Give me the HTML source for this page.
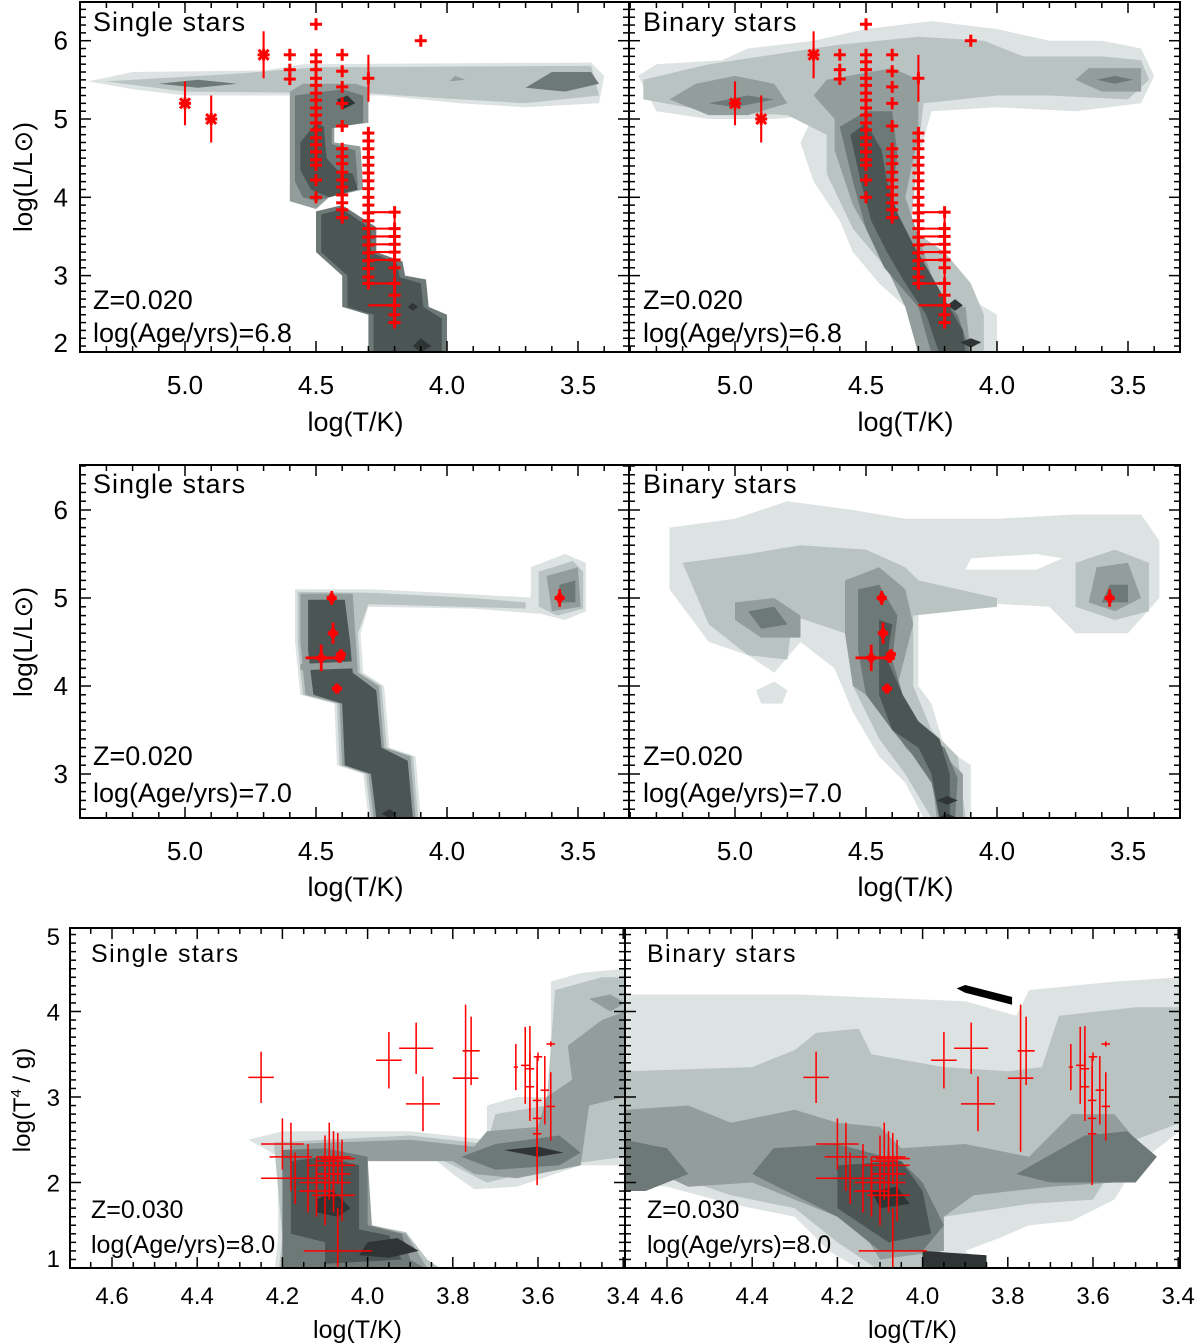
<!DOCTYPE html>
<html><head><meta charset="utf-8"><style>
body{margin:0;background:#fff}
svg{display:block;font-family:"Liberation Sans",sans-serif}
</style></head><body>
<svg id="fig" width="1202" height="1344" viewBox="0 0 1202 1344" xmlns="http://www.w3.org/2000/svg"></svg>
<script>
// ---------- data ----------
const xTicksTop=[5.0,4.5,4.0,3.5];
const xTickLabelsTop=["5.0","4.5","4.0","3.5"];
const yTicksRow1=[2,3,4,5,6];
const yTicksRow2=[3,4,5,6];
const xTicksBottom=[4.6,4.4,4.2,4.0,3.8,3.6,3.4];
const xTickLabelsBottom=["4.6","4.4","4.2","4.0","3.8","3.6","3.4"];
const yTicksRow3=[1,2,3,4,5];
// row1 observations: [logT, logL, xerrHot, yerr, xerrCool]
const row1Plus=[[4.5,6.21,0,0],[4.1,6.0,0,0],
[4.6,5.82,0,0],[4.6,5.63,0,0],[4.6,5.51,0,0],
[4.5,5.82,0,0],[4.5,5.73,0,0],[4.5,5.63,0,0],[4.5,5.52,0,0],[4.5,5.43,0,0],[4.5,5.33,0,0],[4.5,5.24,0,0],[4.5,5.14,0,0],[4.5,5.05,0,0],[4.5,4.95,0,0],[4.5,4.86,0,0],[4.5,4.76,0,0],[4.5,4.67,0,0],[4.5,4.58,0,0],[4.5,4.48,0,0],[4.5,4.41,0,0],[4.5,4.22,0,0],[4.5,4.0,0,0],
[4.4,5.82,0,0],[4.4,5.61,0,0],[4.4,5.41,0,0],[4.4,5.2,0,0],[4.4,4.91,0,0],[4.4,4.62,0,0],[4.4,4.52,0,0],[4.4,4.43,0,0],[4.4,4.32,0,0],[4.4,4.22,0,0],[4.4,4.13,0,0],[4.4,4.03,0,0],[4.4,3.93,0,0],[4.4,3.84,0,0],[4.4,3.74,0,0],
[4.3,5.52,0,0.3],[4.3,4.82,0,0],[4.3,4.72,0,0],[4.3,4.62,0,0],[4.3,4.51,0,0],[4.3,4.41,0,0],[4.3,4.31,0,0],[4.3,4.21,0,0],[4.3,4.11,0,0],[4.3,4.0,0,0],[4.3,3.9,0,0],[4.3,3.8,0,0],[4.3,3.7,0,0],[4.3,3.6,0,0],[4.3,3.49,0,0],[4.3,3.39,0,0],[4.3,3.29,0,0],[4.3,3.19,0,0],[4.3,3.09,0,0],[4.3,2.98,0,0],[4.3,2.9,0,0],
[4.2,3.81,0.1,0,0],[4.2,3.6,0.1,0,0],[4.2,3.5,0.1,0,0],[4.2,3.4,0.1,0,0],[4.2,3.3,0.1,0,0],[4.2,3.2,0.1,0,0],[4.2,3.1,0,0],[4.2,2.9,0.1,0,0],[4.2,2.75,0,0],[4.2,2.62,0.1,0,0],[4.2,2.5,0,0],[4.2,2.4,0,0]];
const row1VertLines=[[4.3,4.9,2.85],[4.2,3.85,2.35],[4.4,3.9,3.7]];
const row1Star=[[5.0,5.2,0,0.28],[4.9,5.0,0,0.3],[4.7,5.82,0,0.3]];
// row2 observations
const row2Pts=[[4.44,5.0,0,0.08],[4.435,4.6,0.02,0.12],[4.48,4.32,0.06,0.15],[4.41,4.32,0.02,0.05],[4.405,4.36,0.01,0.05],[4.42,3.97,0,0],[3.57,5.0,0.01,0.1]];
// row3 observations
const row3Pts=[[4.25,3.23,0.03,0.3],[3.95,3.43,0.03,0.33],[3.886,3.57,0.04,0.3],[3.87,2.92,0.04,0.32],[3.77,3.22,0.03,0.86],[3.757,3.54,0.02,0.4],
[3.652,3.35,0.005,0.27],[3.63,3.37,0.01,0.45],[3.619,3.33,0.01,0.5],[3.619,3.12,0.01,0.4],[3.602,2.96,0.01,0.5],[3.602,2.75,0.01,0.6],[3.602,2.57,0.01,0.6],[3.60,3.47,0.01,0.05],[3.584,3.08,0.01,0.4],[3.57,2.89,0.01,0.4],[3.57,3.62,0.01,0.03],
[4.2,2.45,0.05,0.3],[4.18,2.3,0.05,0.4],[4.14,2.05,0.05,0.4],[4.17,2.05,0.08,0.3],[4.12,1.9,0.04,0.3],[4.1,2.2,0.04,0.35],[4.12,2.0,0.04,0.3],[4.09,2.25,0.03,0.45],[4.08,2.3,0.04,0.3],[4.07,2.28,0.04,0.3],[4.08,2.1,0.04,0.3],[4.06,2.2,0.03,0.3],[4.08,2.0,0.04,0.35],[4.06,1.85,0.03,0.3],[4.1,1.85,0.03,0.35],[4.07,1.2,0.08,0.5]];
const shades=["#dde3e2","#b9c4c2","#939e9c","#6d7977","#4a5554","#2e3534"];
const cP1=[[0,[[5.37,5.48],[5.2,5.6],[4.7,5.62],[4.55,5.7],[3.45,5.72],[3.40,5.55],[3.42,5.2],[3.7,5.15],[3.95,5.2],[4.25,5.3],[4.6,5.3],[5.0,5.3],[5.2,5.38]]],
[1,[[5.3,5.48],[4.8,5.58],[4.5,5.66],[3.45,5.68],[3.42,5.3],[3.7,5.2],[4.0,5.26],[4.3,5.33],[5.0,5.35]]],
[3,[[5.1,5.45],[4.95,5.5],[4.8,5.45],[4.95,5.4]]],[3,[[3.6,5.6],[3.45,5.6],[3.42,5.45],[3.55,5.35],[3.7,5.4]]],[2,[[3.97,5.55],[3.93,5.5],[3.99,5.48]]],
[2,[[4.60,5.35],[4.55,5.45],[4.35,5.45],[4.30,5.4],[4.30,4.95],[4.43,4.9],[4.43,4.7],[4.33,4.65],[4.32,4.1],[4.45,4.0],[4.5,3.85],[4.60,3.95]]],
[3,[[4.58,5.3],[4.4,5.38],[4.32,5.3],[4.32,4.95],[4.44,4.88],[4.44,4.68],[4.35,4.6],[4.34,4.15],[4.45,4.0],[4.5,3.95],[4.55,4.0],[4.58,4.2]]],
[4,[[4.56,4.7],[4.5,4.95],[4.47,4.9],[4.46,4.5],[4.42,4.35],[4.36,4.3],[4.34,4.1],[4.45,4.0],[4.52,4.1],[4.56,4.35]]],
[5,[[4.42,5.25],[4.38,5.3],[4.35,5.2],[4.4,5.12]]],
[3,[[4.5,3.82],[4.4,3.9],[4.27,3.62],[4.27,3.3],[4.17,3.18],[4.16,3.0],[4.08,2.95],[4.07,2.6],[4.0,2.5],[4.0,2.0],[4.3,2.0],[4.3,2.5],[4.4,2.6],[4.4,3.0],[4.5,3.3]]],
[4,[[4.48,3.78],[4.4,3.85],[4.29,3.6],[4.29,3.3],[4.19,3.15],[4.18,2.98],[4.1,2.9],[4.09,2.6],[4.02,2.45],[4.02,2.0],[4.28,2.0],[4.28,2.5],[4.38,2.6],[4.38,3.0],[4.48,3.3]]],
[5,[[4.13,2.65],[4.11,2.6],[4.13,2.55],[4.15,2.6]]],[5,[[4.1,2.2],[4.06,2.1],[4.1,2.02],[4.13,2.1]]]];
const cP2=[[0,[[5.37,5.55],[5.3,5.7],[5.05,5.75],[4.95,5.9],[4.7,6.0],[4.5,6.15],[4.25,6.25],[4.0,6.15],[3.8,6.0],[3.6,6.0],[3.45,5.9],[3.4,5.55],[3.45,5.2],[3.7,5.1],[4.0,5.15],[4.25,5.1],[4.3,4.5],[4.35,3.5],[4.3,3.2],[4.15,3.0],[4.1,2.7],[4.0,2.5],[4.0,2.0],[4.3,2.0],[4.35,2.6],[4.45,2.9],[4.55,3.3],[4.6,3.7],[4.7,4.2],[4.75,4.7],[4.7,5.05],[4.85,5.0],[5.1,5.0],[5.3,5.1]]],
[1,[[5.35,5.5],[5.1,5.7],[4.9,5.8],[4.6,5.95],[4.3,6.05],[4.05,6.0],[3.9,5.8],[3.6,5.8],[3.45,5.75],[3.42,5.5],[3.5,5.25],[3.8,5.3],[4.0,5.3],[4.28,5.2],[4.3,4.6],[4.33,3.6],[4.2,3.3],[4.1,2.9],[4.05,2.5],[4.05,2.0],[4.2,2.0],[4.3,2.6],[4.4,3.0],[4.55,3.6],[4.65,4.3],[4.65,4.8],[4.8,5.05],[5.1,5.1],[5.35,5.25]]],
[2,[[5.25,5.25],[5.15,5.45],[5.0,5.55],[4.85,5.45],[4.8,5.2],[4.95,5.05],[5.1,5.05]]],
[2,[[4.65,5.5],[4.4,5.65],[4.3,5.5],[4.3,4.8],[4.35,4.0],[4.3,3.5],[4.25,3.0],[4.2,2.6],[4.12,2.6],[4.1,2.0],[4.3,2.0],[4.35,2.6],[4.45,3.3],[4.55,3.9],[4.62,4.6],[4.62,5.0],[4.7,5.3]]],
[2,[[3.65,5.65],[3.45,5.65],[3.45,5.35],[3.6,5.35],[3.7,5.5]]],
[3,[[4.6,4.9],[4.5,5.1],[4.4,5.1],[4.38,4.55],[4.4,4.0],[4.35,3.5],[4.3,3.0],[4.22,2.75],[4.15,2.5],[4.12,2.2],[4.1,2.0],[4.25,2.0],[4.3,2.6],[4.43,3.1],[4.5,3.6],[4.55,4.2]]],
[3,[[5.1,5.2],[4.95,5.3],[4.85,5.25],[5.0,5.15]]],[3,[[3.55,5.55],[3.48,5.5],[3.55,5.45],[3.62,5.5]]],
[4,[[4.56,4.8],[4.5,4.95],[4.44,4.6],[4.42,4.2],[4.38,3.8],[4.32,3.4],[4.25,3.0],[4.2,2.7],[4.13,2.3],[4.12,2.0],[4.22,2.0],[4.27,2.5],[4.35,2.9],[4.42,3.3],[4.48,3.7],[4.52,4.2]]],
[5,[[4.16,2.7],[4.13,2.62],[4.16,2.55],[4.19,2.62]]],[5,[[4.1,2.2],[4.06,2.15],[4.1,2.08],[4.14,2.15]]]];
const cP3=[[0,[[4.58,5.1],[4.3,5.1],[3.95,5.05],[3.65,5.0],[3.65,4.82],[3.9,4.88],[4.3,4.9],[4.33,4.6],[4.32,4.15],[4.24,4.0],[4.22,3.3],[4.12,3.2],[4.1,2.5],[4.3,2.5],[4.32,3.0],[4.42,3.1],[4.43,3.8],[4.56,3.9],[4.58,4.5]]],
[0,[[3.68,5.35],[3.55,5.5],[3.47,5.4],[3.47,4.85],[3.55,4.75],[3.68,4.85]]],
[1,[[4.57,5.07],[4.3,5.06],[3.9,5.0],[3.7,4.95],[3.7,4.88],[4.3,4.93],[4.34,4.6],[4.33,4.15],[4.25,4.0],[4.23,3.3],[4.13,3.2],[4.11,2.5],[4.29,2.5],[4.31,3.0],[4.41,3.1],[4.42,3.8],[4.55,3.9],[4.57,4.5]]],
[2,[[4.56,5.05],[4.36,5.05],[4.35,4.6],[4.34,4.15],[4.26,4.0],[4.24,3.3],[4.14,3.2],[4.12,2.5],[4.28,2.5],[4.3,3.0],[4.4,3.1],[4.41,3.8],[4.54,3.9],[4.56,4.5]]],
[1,[[3.65,5.3],[3.52,5.42],[3.48,5.3],[3.48,4.88],[3.58,4.8],[3.65,4.9]]],
[2,[[3.62,5.25],[3.5,5.35],[3.49,4.9],[3.6,4.85]]],[3,[[3.57,5.15],[3.51,5.2],[3.51,4.95],[3.58,4.95]]],
[4,[[4.53,4.98],[4.39,4.98],[4.37,4.5],[4.36,4.15],[4.27,3.95],[4.25,3.3],[4.15,3.15],[4.13,2.5],[4.27,2.5],[4.29,3.0],[4.39,3.1],[4.4,3.8],[4.51,3.9],[4.53,4.4]]],
[2,[[4.56,4.25],[4.36,4.28],[4.36,4.2],[4.56,4.18]]],
[5,[[4.22,2.6],[4.19,2.55],[4.22,2.5],[4.25,2.55]]]];
const cP4=[[0,[[5.25,5.8],[5.0,5.9],[4.8,6.1],[4.55,6.0],[4.35,5.9],[4.0,5.9],[3.7,5.95],[3.45,5.95],[3.38,5.65],[3.38,5.0],[3.5,4.6],[3.7,4.6],[3.8,4.9],[4.1,4.95],[4.3,4.85],[4.3,4.0],[4.25,3.8],[4.2,3.3],[4.1,3.1],[4.1,2.5],[4.28,2.5],[4.35,2.9],[4.45,3.2],[4.55,3.7],[4.62,4.2],[4.75,4.5],[4.85,4.15],[4.95,4.35],[5.1,4.5],[5.25,5.1]]],
[0,[[4.92,3.95],[4.85,4.05],[4.8,3.95],[4.82,3.8],[4.9,3.8]]],
[1,[[5.2,5.4],[4.95,5.5],[4.75,5.6],[4.5,5.55],[4.35,5.35],[4.3,5.2],[4.0,5.0],[4.0,4.9],[4.32,4.8],[4.32,4.0],[4.25,3.5],[4.15,3.2],[4.12,2.5],[4.25,2.5],[4.35,3.0],[4.45,3.4],[4.55,4.0],[4.58,4.6],[4.78,4.8],[4.8,4.3],[4.95,4.35],[5.1,4.7]]],
[1,[[3.7,5.4],[3.55,5.55],[3.42,5.4],[3.42,4.85],[3.55,4.75],[3.7,4.9]]],
[2,[[4.58,5.2],[4.45,5.35],[4.35,5.1],[4.32,4.7],[4.38,4.0],[4.3,3.55],[4.2,3.2],[4.13,3.0],[4.13,2.5],[4.23,2.5],[4.25,3.0],[4.35,3.3],[4.45,3.8],[4.55,4.0],[4.58,4.6]]],
[2,[[5.0,4.95],[4.85,5.0],[4.75,4.8],[4.75,4.55],[4.9,4.55],[5.0,4.75]]],
[2,[[3.62,5.35],[3.5,5.4],[3.45,5.0],[3.55,4.85],[3.65,4.95]]],
[3,[[4.53,5.1],[4.45,5.15],[4.38,4.8],[4.4,4.3],[4.35,3.8],[4.3,3.5],[4.2,3.3],[4.15,2.95],[4.16,2.5],[4.22,2.5],[4.25,2.9],[4.33,3.25],[4.4,3.5],[4.5,3.9],[4.53,4.4]]],
[3,[[4.95,4.85],[4.85,4.9],[4.8,4.7],[4.9,4.65]]],[3,[[3.57,5.15],[3.5,5.15],[3.5,4.95],[3.6,4.95]]],
[4,[[4.45,4.75],[4.4,4.7],[4.42,4.3],[4.36,3.9],[4.3,3.6],[4.22,3.4],[4.18,3.0],[4.18,2.5],[4.22,2.5],[4.25,3.0],[4.3,3.3],[4.4,3.5],[4.45,3.9]]],
[5,[[4.19,2.75],[4.15,2.7],[4.19,2.65],[4.23,2.7]]],[5,[[4.19,2.55],[4.15,2.5],[4.23,2.5]]]];
const holesP4=[[[4.95,5.5],[4.8,5.55],[4.7,5.45],[4.8,5.35],[4.95,5.35]],[[4.12,5.32],[3.85,5.32],[3.75,5.45],[3.85,5.5],[4.1,5.45]]];
const cP5=[[0,[[4.28,2.5],[4.2,2.6],[3.9,2.6],[3.72,2.5],[3.72,2.9],[3.65,3.0],[3.57,3.0],[3.57,4.35],[3.5,4.45],[3.396,4.5],[3.396,2.2],[3.5,2.2],[3.65,1.95],[3.75,1.92],[3.8,2.1],[3.85,2.3],[4.0,2.32],[4.0,1.5],[3.92,1.42],[3.88,1.1],[3.8,0.95],[3.78,0.9],[4.22,0.9],[4.21,1.35],[4.21,2.3],[4.25,2.42]]],
[1,[[4.22,2.47],[3.9,2.55],[3.72,2.45],[3.7,2.8],[3.58,2.9],[3.56,4.25],[3.45,4.4],[3.396,4.4],[3.396,2.3],[3.55,2.2],[3.72,2.0],[3.8,2.2],[3.85,2.32],[4.0,2.3],[3.99,1.5],[3.91,1.42],[3.86,1.1],[3.8,0.9],[4.21,0.9],[4.2,1.35]]],
[2,[[4.18,2.45],[3.9,2.5],[3.75,2.42],[3.72,2.6],[3.6,2.65],[3.58,3.0],[3.52,3.2],[3.53,3.6],[3.45,3.9],[3.396,4.0],[3.396,3.0],[3.48,2.9],[3.5,2.2],[3.65,2.05],[3.75,2.1],[3.8,2.25],[4.0,2.25],[3.99,1.5],[3.91,1.4],[3.86,1.0],[3.85,0.9],[4.2,0.9],[4.2,1.35]]],
[2,[[3.48,4.15],[3.43,4.2],[3.396,4.1],[3.43,4.0]]],
[3,[[4.2,2.38],[4.1,2.4],[4.0,2.3],[4.0,1.5],[3.92,1.4],[3.9,1.1],[3.85,0.95],[3.9,0.9],[4.2,0.9],[4.2,1.35]]],
[3,[[3.7,2.45],[3.55,2.55],[3.5,2.35],[3.55,2.2],[3.7,2.15],[3.78,2.3]]],
[4,[[4.18,2.25],[4.1,2.3],[4.02,2.2],[4.02,1.45],[3.95,1.38],[3.92,1.1],[4.1,1.05],[4.1,1.3],[4.18,1.4]]],
[5,[[4.12,1.8],[4.08,1.9],[4.04,1.7],[4.07,1.6],[4.12,1.65]]],[5,[[4.0,1.3],[3.93,1.35],[3.88,1.2],[3.95,1.12],[4.02,1.15]]],
[5,[[3.68,2.38],[3.6,2.42],[3.54,2.35],[3.6,2.3]]]];
const cP6=[[0,[[4.7,4.2],[4.3,4.2],[3.9,4.12],[3.78,3.95],[3.75,4.25],[3.55,4.35],[3.396,4.4],[3.396,2.6],[3.5,2.2],[3.55,1.8],[3.65,1.55],[3.75,1.5],[3.82,1.35],[3.9,1.2],[3.85,1.0],[3.85,0.9],[4.12,0.9],[4.22,1.2],[4.3,1.6],[4.45,1.75],[4.6,1.95],[4.7,2.0]]],
[1,[[4.7,3.3],[4.4,3.35],[4.3,3.55],[4.25,3.75],[4.15,3.8],[4.12,3.5],[3.95,3.35],[3.8,3.3],[3.72,3.35],[3.68,3.95],[3.5,4.05],[3.396,4.05],[3.396,2.7],[3.5,2.5],[3.55,2.2],[3.6,1.8],[3.75,1.75],[3.95,1.6],[3.98,1.3],[3.92,1.0],[4.08,0.9],[4.2,1.3],[4.3,1.7],[4.45,1.85],[4.6,2.1],[4.7,2.2]]],
[2,[[4.7,2.85],[4.55,2.9],[4.45,2.7],[4.3,2.85],[4.2,2.7],[4.1,2.65],[4.05,2.4],[3.9,2.45],[3.75,2.3],[3.65,2.8],[3.55,2.8],[3.5,2.5],[3.55,2.0],[3.7,1.95],[3.88,1.85],[3.95,1.6],[3.95,1.2],[4.1,1.1],[4.15,1.5],[4.3,1.8],[4.4,2.0],[4.55,1.95],[4.7,2.3]]],
[3,[[4.7,2.5],[4.6,2.4],[4.55,2.1],[4.65,1.9],[4.7,1.9]]],
[3,[[4.35,2.4],[4.2,2.45],[4.05,2.25],[4.0,2.0],[3.95,1.5],[4.0,1.2],[4.1,1.2],[4.2,1.6],[4.3,1.85],[4.4,2.1]]],
[3,[[3.62,2.55],[3.52,2.6],[3.45,2.3],[3.5,2.0],[3.7,2.0],[3.78,2.1]]],
[4,[[4.2,2.2],[4.05,2.25],[4.0,1.9],[3.98,1.4],[4.08,1.3],[4.2,1.7]]],
[5,[[4.0,1.2],[3.85,1.15],[3.85,0.95],[4.0,0.98]]],[5,[[4.12,1.9],[4.06,1.95],[4.03,1.75],[4.1,1.7]]]];
const holesP6=[[[4.49,2.45],[4.39,2.45],[4.39,2.05],[4.49,2.05]],[[4.7,1.95],[4.5,1.8],[4.3,1.5],[4.22,1.15],[4.2,0.9],[4.7,0.9]]];
const arrowP6=[[3.92,4.27],[3.90,4.31],[3.79,4.17],[3.79,4.08],[3.9,4.22]];

// ---------- drawing ----------
const NS="http://www.w3.org/2000/svg";
const svg=document.getElementById('fig');
function el(tag,attrs,parent){const e=document.createElementNS(NS,tag);for(const k in attrs)e.setAttribute(k,attrs[k]);(parent||svg).appendChild(e);return e;}
const panels=[
 {id:'p1',x0:80,x1:629,y0:2,y1:352,X:t=>185+(5-t)*262,Y:l=>119+(5-l)*78.3,tmin:3.3,tmax:5.4,lmin:2,lmax:6.5},
 {id:'p2',x0:629,x1:1180,y0:2,y1:352,X:t=>735+(5-t)*262,Y:l=>119+(5-l)*78.3,tmin:3.3,tmax:5.4,lmin:2,lmax:6.5},
 {id:'p3',x0:80,x1:629,y0:465,y1:818,X:t=>185+(5-t)*262,Y:l=>598+(5-l)*88,tmin:3.3,tmax:5.4,lmin:2.5,lmax:6.5},
 {id:'p4',x0:629,x1:1180,y0:465,y1:818,X:t=>735+(5-t)*262,Y:l=>598+(5-l)*88,tmin:3.3,tmax:5.4,lmin:2.5,lmax:6.5},
 {id:'p5',x0:70,x1:625,y0:928,y1:1268,X:t=>112+(4.6-t)*426,Y:v=>1097+(3-v)*85.5,tmin:3.4,tmax:4.7,lmin:0.9,lmax:5.1},
 {id:'p6',x0:625,x1:1180,y0:928,y1:1268,X:t=>667+(4.6-t)*426,Y:v=>1097+(3-v)*85.5,tmin:3.4,tmax:4.7,lmin:0.9,lmax:5.1}];
const defs=el('defs',{});
panels.forEach(p=>{const c=el('clipPath',{id:'clip-'+p.id},defs);el('rect',{x:p.x0,y:p.y0,width:p.x1-p.x0,height:p.y1-p.y0},c);});
function polyStr(p,pts){return pts.map(q=>p.X(q[0]).toFixed(1)+','+p.Y(q[1]).toFixed(1)).join(' ');}
function drawContours(p,list,holes,g){
 list.forEach((c,i)=>{const e=el('polygon',{points:polyStr(p,c[1]),fill:shades[c[0]]},g);
  
  
  if(holes&&i===0){holes.forEach(h=>{const w=el('polygon',{points:polyStr(p,h),fill:'#fff'},g);
   
   });}
 });
}
function drawErr(p,g,pt,sw,arm,name){
 const x=p.X(pt[0]),y=p.Y(pt[1]);
 const grp=el('g',{stroke:'#f00','stroke-width':sw,fill:'none'},g);
 
 
 const xh=pt[2],xc=(pt.length>4)?pt[4]:pt[2];
 if(xh>0||xc>0)el('line',{x1:p.X(pt[0]+xh),x2:p.X(pt[0]-xc),y1:y,y2:y,'stroke-width':sw*0.7},grp);
 if(pt[3]>0)el('line',{x1:x,x2:x,y1:p.Y(pt[1]+pt[3]),y2:p.Y(pt[1]-pt[3]),'stroke-width':sw*0.7},grp);
 if(arm>0){el('line',{x1:x-arm,x2:x+arm,y1:y,y2:y},grp);
 el('line',{x1:x,x2:x,y1:y-arm,y2:y+arm},grp);}
 return grp;
}
function axesFrame(p,xt,minorX,yt,minorY){
 const g=el('g',{stroke:'#000','stroke-width':1.5});
 
 
 for(let t=Math.ceil(p.tmin/minorX-1e-6)*minorX;t<=p.tmax+1e-6;t+=minorX){
  const x=p.X(t);if(x<p.x0+1||x>p.x1-1)continue;
  const maj=xt.some(v=>Math.abs(v-t)<1e-6);const L=maj?11:6;
  el('line',{x1:x,x2:x,y1:p.y1,y2:p.y1-L},g);el('line',{x1:x,x2:x,y1:p.y0,y2:p.y0+L},g);}
 for(let v=Math.ceil(p.lmin/minorY-1e-6)*minorY;v<=p.lmax+1e-6;v+=minorY){
  const y=p.Y(v);if(y<p.y0+1||y>p.y1-1)continue;
  const maj=yt.some(q=>Math.abs(q-v)<1e-6);const L=maj?11:6;
  el('line',{x1:p.x0,x2:p.x0+L,y1:y,y2:y},g);el('line',{x1:p.x1,x2:p.x1-L,y1:y,y2:y},g);}
 const f=el('rect',{x:p.x0,y:p.y0,width:p.x1-p.x0,height:p.y1-p.y0,fill:'none',stroke:'#000','stroke-width':2});
 
 
}
function txt(s,x,y,size,anchor,name,extra){const t=el('text',Object.assign({x:x,y:y,'font-size':size,'text-anchor':anchor||'start',fill:'#000'},extra||{}));t.textContent=s;
 
 return t;}

const contourSets=[cP1,cP2,cP3,cP4,cP5,cP6];
const holeSets=[null,null,null,holesP4,null,holesP6];
panels.forEach((p,i)=>{
 const bg=el('rect',{x:p.x0,y:p.y0,width:p.x1-p.x0,height:p.y1-p.y0,fill:'#fff'});
 
 
 const g=el('g',{'clip-path':'url(#clip-'+p.id+')'});
 
 
 drawContours(p,contourSets[i],holeSets[i],g);
 if(i===5){const a=el('polygon',{points:polyStr(p,arrowP6),fill:'#000'},g);
  
  }
 const m=el('g',{'clip-path':'url(#clip-'+p.id+')'});
 
 
 if(i<2){
  row1VertLines.forEach(v=>{const l=el('line',{x1:p.X(v[0]),x2:p.X(v[0]),y1:p.Y(v[1]),y2:p.Y(v[2]),stroke:'#f00','stroke-width':2},m);
   
   });
  row1Plus.forEach(pt=>drawErr(p,m,pt,3,6,'star-marker'));
  row1Star.forEach(pt=>{const gg=drawErr(p,m,pt,3,6,'wr-star-marker');const x=p.X(pt[0]),y=p.Y(pt[1]);
   el('line',{x1:x-5,y1:y-5,x2:x+5,y2:y+5},gg);el('line',{x1:x-5,y1:y+5,x2:x+5,y2:y-5},gg);});
 } else if(i<4){
  row2Pts.forEach(pt=>{const gg=drawErr(p,m,pt,4,5,'star-marker');el('circle',{cx:p.X(pt[0]),cy:p.Y(pt[1]),r:4,fill:'#f00',stroke:'none'},gg);});
 } else {
  row3Pts.forEach(pt=>drawErr(p,m,pt,2.2,0,'star-marker'));
 }
 if(i<4)axesFrame(p,xTicksTop,0.1,i<2?yTicksRow1:yTicksRow2,0.1);
 else axesFrame(p,xTicksBottom,0.05,yTicksRow3,0.1);
});
// Panel captions
txt('Single stars',93,31,27,'start','panel-title-single-68',{'letter-spacing':'1'});
txt('Binary stars',643,31,27,'start','panel-title-binary-68',{'letter-spacing':'1'});
txt('Z=0.020',93,309,27,'start','metallicity-label');
txt('log(Age/yrs)=6.8',93,342,27,'start','age-label');
txt('Z=0.020',643,309,27,'start','metallicity-label');
txt('log(Age/yrs)=6.8',643,342,27,'start','age-label');
txt('Single stars',93,493,27,'start','panel-title-single-70',{'letter-spacing':'1'});
txt('Binary stars',643,493,27,'start','panel-title-binary-70',{'letter-spacing':'1'});
txt('Z=0.020',93,765,27,'start','metallicity-label');
txt('log(Age/yrs)=7.0',93,802,27,'start','age-label');
txt('Z=0.020',643,765,27,'start','metallicity-label');
txt('log(Age/yrs)=7.0',643,802,27,'start','age-label');
txt('Single stars',91,962,25,'start','panel-title-single-80',{'letter-spacing':'1.5'});
txt('Binary stars',647,962,25,'start','panel-title-binary-80',{'letter-spacing':'1.5'});
txt('Z=0.030',91,1218,25,'start','metallicity-label');
txt('log(Age/yrs)=8.0',91,1253,25,'start','age-label');
txt('Z=0.030',647,1218,25,'start','metallicity-label');
txt('log(Age/yrs)=8.0',647,1253,25,'start','age-label');
// x tick labels
[[panels[0],394,422],[panels[1],394,422],[panels[2],860,887],[panels[3],860,887]].forEach(a=>{
 xTicksTop.forEach((t,k)=>txt(xTickLabelsTop[k],a[0].X(t),a[1],26,'middle','x-tick-label'));
 txt('log(T/K)',(a[0].x0+a[0].x1)/2+1,a[2]+9,27,'middle','x-axis-title');
});
[panels[4],panels[5]].forEach(p=>{
 xTicksBottom.forEach((t,k)=>txt(xTickLabelsBottom[k],p.X(t),1304,24,'middle','x-tick-label'));
 txt('log(T/K)',(p.x0+p.x1)/2+10,1338,25,'middle','x-axis-title');
});
yTicksRow1.forEach(v=>txt(String(v),68,Math.min(panels[0].Y(v),343)+9,26,'end','y-tick-label'));
yTicksRow2.forEach(v=>txt(String(v),68,panels[2].Y(v)+9,26,'end','y-tick-label'));
yTicksRow3.forEach(v=>txt(String(v),60,Math.min(Math.max(panels[4].Y(v),936),1258)+9,24,'end','y-tick-label'));
txt('log(L/L\u2299)',0,0,26,'middle','y-axis-title',{transform:'translate(32,177) rotate(-90)'});
txt('log(L/L\u2299)',0,0,26,'middle','y-axis-title',{transform:'translate(32,642) rotate(-90)'});
const t3=txt('log(T',0,0,24,'middle','y-axis-title',{transform:'translate(30,1100) rotate(-90)'});
const sup=el('tspan',{'font-size':15,dy:-9},t3);sup.textContent='4';
const rest=el('tspan',{dy:9},t3);rest.textContent=' / g)';
</script>
</body></html>
